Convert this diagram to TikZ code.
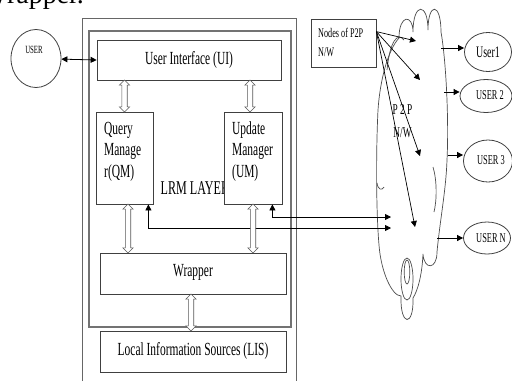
\documentclass[tikz,border=0pt]{standalone}
\usepackage{fontspec}
\setmainfont{Liberation Serif}[FakeStretch=0.62]
\newfontfamily\plainfont{Liberation Serif}
\usetikzlibrary{arrows.meta,shapes.arrows,shapes.geometric,calc}
\begin{document}
\begin{tikzpicture}[x=1pt,y=-1pt,
  box/.style={draw=black!75, line width=0.8pt, fill=white, inner sep=0pt},
  frame/.style={draw=black!60, line width=0.9pt},
  hol/.style={double arrow, draw=black!65, fill=white, line width=0.6pt,
    shape border rotate=90, inner sep=2.4pt, double arrow head extend=2.4pt,
    minimum width=10pt},
  dbl/.style={{Triangle[length=6pt,width=6pt]}-{Triangle[length=6pt,width=6pt]}, line width=0.8pt},
  one/.style={-{Triangle[length=6pt,width=6pt]}, line width=0.8pt},
  big/.style={inner sep=0pt, font=\fontsize{18.5}{21.5}\selectfont},
  usr/.style={draw=black!75, line width=0.8pt, ellipse, fill=white, inner sep=0pt},
  cloudline/.style={draw=black!70, line width=0.7pt},
]
\useasboundingbox (0,0) rectangle (512,381);
\clip (0,0) rectangle (512,381);
\fill[white] (0,0) rectangle (512,381);

% cut-off text above the figure
\node[anchor=base west, inner sep=0pt, font=\plainfont\fontsize{28}{30}\selectfont] (toptext) at (-18.5,3) {Wrapper.};

% frames
\draw[frame] (82,381) -- (82,18) -- (296,18) -- (296,381);
\draw[frame, line width=1.1pt, draw=black!55] (89,31) rectangle (291,327);

% cloud
\draw[cloudline, fill=white]
  (399,38) .. controls (399,14) and (413,14) .. (413,32)
  .. controls (413,2) and (428,2) .. (428,30)
  .. controls (428,2) and (441,2) .. (441,32)
  .. controls (446,60) and (449,120) .. (447,160)
  .. controls (446,190) and (440,220) .. (437,252)
  .. controls (437,270) and (424,270) .. (423,254)
  .. controls (422,275) and (418,290) .. (413,298)
  .. controls (414,327) and (400,327) .. (401,296)
  .. controls (392,296) and (381,272) .. (379,245)
  .. controls (376,210) and (376,150) .. (378,110)
  .. controls (380,80) and (388,50) .. (399,38) -- cycle;
\draw[cloudline] (407,279) ellipse [x radius=6, y radius=21];
\draw[cloudline] (407,272) ellipse [x radius=2.8, y radius=12];
\draw[cloudline] (433,167) .. controls (437,180) and (437,200) .. (434,212);
\draw[cloudline] (377,183) .. controls (378,190) and (382,191) .. (384,187);
\draw[cloudline] (387,70) .. controls (390,40) and (398,32) .. (404,40);
\node[inner sep=0pt, align=center, font=\fontsize{15}{23}\selectfont] (p2p) at (402.5,121.5) {P 2 P\\N/W};

% named points on the cloud
\coordinate (c1) at (441,48);
\coordinate (c2) at (444,92);
\coordinate (c3) at (447.5,155);
\coordinate (c4) at (437,238);
\coordinate (t1) at (416,41);
\coordinate (t2) at (420,80);
\coordinate (t3) at (420,156);
\coordinate (t4) at (415,227);
\coordinate (cl1) at (391,217);
\coordinate (cl2) at (391,228);

% user circle
\node[draw=black!75, line width=0.8pt, ellipse, minimum width=50pt, minimum height=58pt, inner sep=0pt] (user) at (36,58.5) {};
\node[inner sep=0pt, font=\fontsize{11}{12}\selectfont] (usertxt) at (34,50) {USER};

% LRM layer label (partly hidden by UM box)
\node[anchor=west, inner sep=0pt, font=\fontsize{19.5}{22}\selectfont] (lrm) at (160.5,188) {LRM LAYER};

% boxes
\node[box, minimum width=184pt, minimum height=40pt] (ui) at (189,60) {};
\node[big] (uitxt) at (189,60) {User Interface (UI)};
\node[box, minimum width=57pt, minimum height=92pt] (qm) at (124.5,158) {};
\node[big, anchor=west, align=left] (qmtxt) at (104,151.5) {Query\\Manage\\r(QM)};
\node[box, minimum width=58pt, minimum height=92pt] (um) at (253,158) {};
\node[big, anchor=west, align=left] (umtxt) at (232,151.5) {Update\\Manager\\(UM)};
\node[box, minimum width=186pt, minimum height=41pt] (wr) at (193,273.5) {};
\node[big] (wrtxt) at (193,272) {Wrapper};
\node[box, minimum width=186pt, minimum height=41pt] (lis) at (193,351.5) {};
\node[big] (listxt) at (193,350.5) {Local Information Sources (LIS)};
\node[box, minimum width=65pt, minimum height=48pt] (nodes) at (343.5,43) {};
\node[inner sep=0pt, anchor=west, align=left, font=\fontsize{13.2}{19}\selectfont] (nodestxt) at (318,42.5) {Nodes of P2P\\N/W};
\coordinate (np) at ($(nodes.north east)+(0,13)$);

% user ellipses
\node[usr, minimum width=47pt, minimum height=39pt] (user1) at (488,52) {};
\node[inner sep=0pt, font=\fontsize{16}{18}\selectfont] (u1t) at (488,52) {User1};
\node[usr, minimum width=52pt, minimum height=33pt] (user2) at (486,96) {};
\node[inner sep=0pt, font=\fontsize{13.5}{16}\selectfont] (u2t) at (490,95) {USER 2};
\node[usr, minimum width=49pt, minimum height=42pt] (user3) at (488,161) {};
\node[inner sep=0pt, font=\fontsize{13.5}{16}\selectfont] (u3t) at (491,160) {USER 3};
\node[usr, minimum width=47pt, minimum height=32pt] (userN) at (487,238) {};
\node[inner sep=0pt, font=\fontsize{13.5}{16}\selectfont] (uNt) at (491,238) {USER N};

% connectors
\draw[dbl] (user) -- (ui.west);
\draw[dbl] ($(qm.south east)+(-5,0)$) |- (cl2);
\draw[dbl] ($(um.south east)+(-10,0)$) |- (cl1);
\foreach \t in {t1,t2,t3,t4} \draw[one, line width=0.7pt] (np) -- (\t);
\draw[one] (c1) -- (c1 -| user1.west);
\draw[one] (c2) -- (c2 -| user2.west);
\draw[one] (c3) -- (c3 -| user3.west);
\draw[one] (c4) -- (c4 -| userN.west);

% hollow double arrows
\node[hol, minimum height=32pt] (a1) at ($(qm.north)!0.5!(qm.north|-ui.south)$) {};
\node[hol, minimum height=32pt] (a2) at ($(um.north)!0.5!(um.north|-ui.south)+(-3,0)$) {};
\node[hol, minimum height=49pt] (a3) at ($(qm.south)!0.5!(qm.south|-wr.north)+(3.5,0)$) {};
\node[hol, minimum height=49pt] (a4) at ($(um.south)!0.5!(um.south|-wr.north)$) {};
\node[hol, minimum height=37pt] (a5) at ($(wr.south)!0.5!(wr.south|-lis.north)+(-2,0)$) {};
\end{tikzpicture}
\end{document}
